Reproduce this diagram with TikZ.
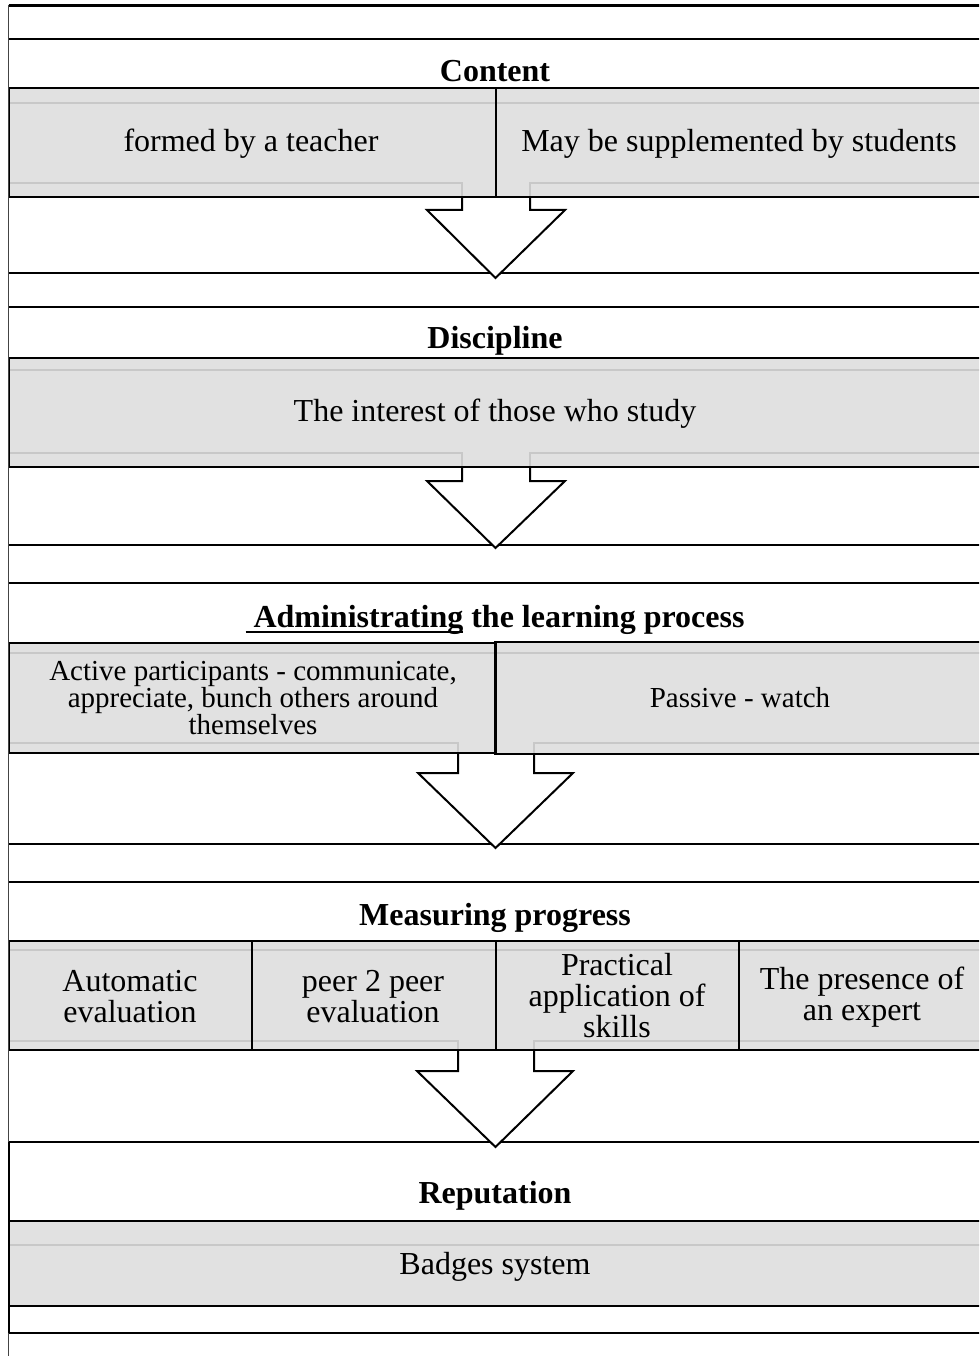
\documentclass[tikz,border=0pt]{standalone}
\usepackage{fontspec}
\setmainfont{Liberation Serif}
\definecolor{boxgray}{HTML}{E1E1E1}
\definecolor{innergray}{HTML}{C8C8C8}
\definecolor{leftgray}{HTML}{444444}
\newcommand{\ulbox}[1]{\setbox0=\hbox{#1}\rlap{\rule[-6pt]{\wd0}{2.2pt}}\box0\relax}
\begin{document}
\begin{tikzpicture}[x=1pt,y=-1pt,
  hline/.style={draw=black, line width=2.2pt},
  cellfill/.style={fill=boxgray, draw=none, inner sep=0pt, outer sep=0pt, anchor=north west},
  cellborder/.style={draw=black, line width=2pt},
  inner/.style={draw=innergray, line width=1.6pt},
  blockarrow/.style={draw=black, line width=2pt, fill=white, line join=miter},
  title/.style={font=\fontsize{32}{36}\selectfont\bfseries, inner sep=0pt, anchor=base},
  txt/.style={font=\fontsize{32}{31}\selectfont, align=center, inner sep=0pt},
  txts/.style={font=\fontsize{29}{27}\selectfont, align=center, inner sep=0pt}]
\useasboundingbox (0,0) rectangle (979,1356);
\clip (0,0) rectangle (979,1356);

% horizontal band lines
\foreach \y in {5.5,39,273,307,545,583,844,882,1142,1333}
  \draw[hline] (8.5,\y) -- (990,\y);

% block arrows
\draw[blockarrow] (462,197) -- (462,210) -- (427,210) -- (495.5,278) -- (565,210) -- (530,210) -- (530,197);
\draw[blockarrow] (462,467) -- (462,481) -- (427,481) -- (495.5,548) -- (565,481) -- (530,481) -- (530,467);
\draw[blockarrow] (458,753) -- (458,773) -- (418,773) -- (495.5,848) -- (573,773) -- (534,773) -- (534,754);
\draw[blockarrow] (458,1050) -- (458,1071) -- (417,1071) -- (495.5,1147) -- (573,1071) -- (534,1071) -- (534,1050);

% cell fills
\node[cellfill, minimum width=487.5, minimum height=109] (c1a) at (8.5,88) {};
\node[cellfill, minimum width=494, minimum height=109] (c1b) at (496,88) {};
\node[cellfill, minimum width=981.5, minimum height=109] (c2) at (8.5,358) {};
\node[cellfill, minimum width=487.5, minimum height=110] (c3a) at (8.5,643) {};
\node[cellfill, minimum width=495, minimum height=112] (c3b) at (495,642) {};
\node[cellfill, minimum width=243.5, minimum height=109] (c4a) at (8.5,941) {};
\node[cellfill, minimum width=244, minimum height=109] (c4b) at (252,941) {};
\node[cellfill, minimum width=243, minimum height=109] (c4c) at (496,941) {};
\node[cellfill, minimum width=251, minimum height=109] (c4d) at (739,941) {};
\node[cellfill, minimum width=981.5, minimum height=85] (c5) at (8.5,1221) {};

% inner light lines
\draw[inner] (10,103) -- (990,103);
\draw[inner] (10,183) -- (462,183) -- (462,197);
\draw[inner] (990,183) -- (530,183) -- (530,197);
\draw[inner] (10,370) -- (990,370);
\draw[inner] (10,453) -- (462,453) -- (462,467);
\draw[inner] (990,453) -- (530,453) -- (530,467);
\draw[inner] (10,653) -- (990,653);
\draw[inner] (10,743) -- (458,743) -- (458,753);
\draw[inner] (990,743) -- (534,743) -- (534,754);
\draw[inner] (10,950) -- (990,950);
\draw[inner] (10,1041) -- (458,1041) -- (458,1050);
\draw[inner] (990,1041) -- (534,1041) -- (534,1050);
\draw[inner] (10,1245) -- (990,1245);

% cell borders
\foreach \c in {c1a,c1b,c2,c3a,c3b,c4a,c4b,c4c,c4d,c5}
  \draw[cellborder] (\c.north west) rectangle (\c.south east);

% left line
\draw[leftgray, line width=1.5pt] (8.5,5) -- (8.5,1356);
\draw[black, line width=2pt] (8.5,1142) -- (8.5,1333);

% texts
\node[title] (tcontent) at (495,82) {Content};
\node[txt] (t1a) at (251,144) {formed by a teacher};
\node[txt] (t1b) at (739,144) {May be supplemented by students};
\node[title] (tdisc) at (495,348) {Discipline};
\node[txt] (t2) at (495,414) {The interest of those who study};
\node[title] (tadm) at (495,627) {\ulbox{\ Administrating} the learning process};
\node[txts] (t3a) at (253,698) {Active participants - communicate,\\appreciate, bunch others around\\themselves};
\node[txts] (t3b) at (740,698) {Passive - watch};
\node[title] (tmeas) at (495,925) {Measuring progress};
\node[txt] (t4a) at (130,997) {Automatic\\evaluation};
\node[txt] (t4b) at (373,997) {peer 2 peer\\evaluation};
\node[txt] (t4c) at (617,996) {Practical\\application of\\skills};
\node[txt] (t4d) at (862,997) {The presence of\\an expert};
\node[title] (trep) at (495,1203) {Reputation};
\node[txt] (t5) at (495,1267) {Badges system};
\end{tikzpicture}
\end{document}
